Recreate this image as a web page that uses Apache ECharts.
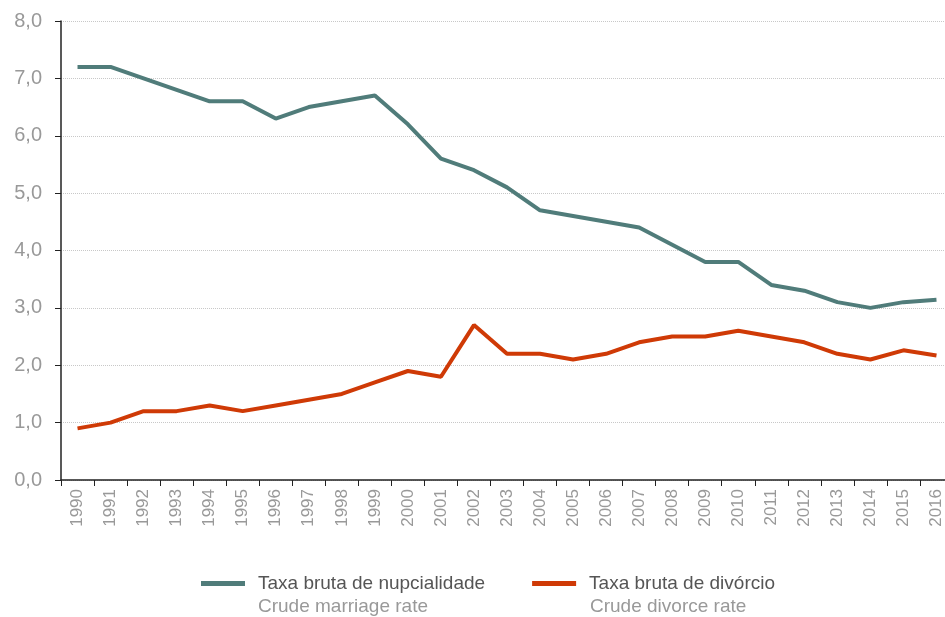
<!DOCTYPE html>
<html>
<head>
<meta charset="utf-8">
<script src="https://cdn.jsdelivr.net/npm/echarts@6/dist/echarts.min.js"></script>
<style>
  html, body { margin: 0; padding: 0; background: #fff; overflow: hidden; }
  #chart { width: 960px; height: 617px; }
</style>
</head>
<body>
<div id="chart"></div>
<script>
  // anos
  var years = ['1990','1991','1992','1993','1994','1995','1996','1997','1998','1999',
               '2000','2001','2002','2003','2004','2005','2006','2007','2008','2009',
               '2010','2011','2012','2013','2014','2015','2016'];
  // taxa bruta de nupcialidade (por mil)
  var marriage = [7.2, 7.2, 7.0, 6.8, 6.6, 6.6, 6.3, 6.5, 6.6, 6.7,
                  6.2, 5.6, 5.4, 5.1, 4.7, 4.6, 4.5, 4.4, 4.1, 3.8,
                  3.8, 3.4, 3.3, 3.1, 3.0, 3.1, 3.14];
  // taxa bruta de divórcio (por mil)
  var divorce = [0.9, 1.0, 1.2, 1.2, 1.3, 1.2, 1.3, 1.4, 1.5, 1.7,
                 1.9, 1.8, 2.7, 2.2, 2.2, 2.1, 2.2, 2.4, 2.5, 2.5,
                 2.6, 2.5, 2.4, 2.2, 2.1, 2.26, 2.17];
  var seriesNames = ['Taxa bruta de nupcialidade', 'Taxa bruta de divórcio'];
  var englishNames = ['Crude marriage rate', 'Crude divorce rate'];

  var font = 'Liberation Sans';
  var chart = echarts.init(document.getElementById('chart'));

  chart.setOption({
    animation: false,
    color: ['#507c7a', '#cf3a06'],
    grid: { left: 61, top: 21, width: 892, height: 459, containLabel: false },
    legend: {
      data: seriesNames,
      left: 201,
      top: 574,
      padding: 0,
      icon: 'rect',
      itemWidth: 44,
      itemHeight: 5,
      itemGap: 47,
      textStyle: { fontFamily: font, fontSize: 19, color: '#555', padding: [0, 0, 0, 8] }
    },
    graphic: [
      { type: 'text', left: 258, top: 597, style: { text: englishNames[0], font: '19px "' + font + '"', fill: '#999' } },
      { type: 'text', left: 590, top: 597, style: { text: englishNames[1], font: '19px "' + font + '"', fill: '#999' } }
    ],
    xAxis: {
      type: 'category',
      data: years,
      boundaryGap: true,
      axisLine: { lineStyle: { color: '#222', width: 1.5 } },
      axisTick: { show: true, length: 6, lineStyle: { color: '#222' } },
      axisLabel: { rotate: 90, interval: 0, margin: 9, color: '#999', fontFamily: font, fontSize: 17 }
    },
    yAxis: {
      type: 'value',
      min: 0,
      max: 8,
      interval: 1,
      axisLine: { show: true, lineStyle: { color: '#222', width: 1.5 } },
      axisTick: { show: true, length: 6, lineStyle: { color: '#222' } },
      axisLabel: {
        margin: 19, color: '#999', fontFamily: font, fontSize: 20,
        formatter: function (v) { return v.toFixed(1).replace('.', ','); }
      },
      splitLine: { show: true, lineStyle: { color: '#c8c8c8', type: 'dotted', width: 1 } }
    },
    series: [
      { name: seriesNames[0], type: 'line', data: marriage, showSymbol: false, lineStyle: { width: 4 } },
      { name: seriesNames[1], type: 'line', data: divorce, showSymbol: false, lineStyle: { width: 4 } }
    ]
  });
</script>
</body>
</html>
